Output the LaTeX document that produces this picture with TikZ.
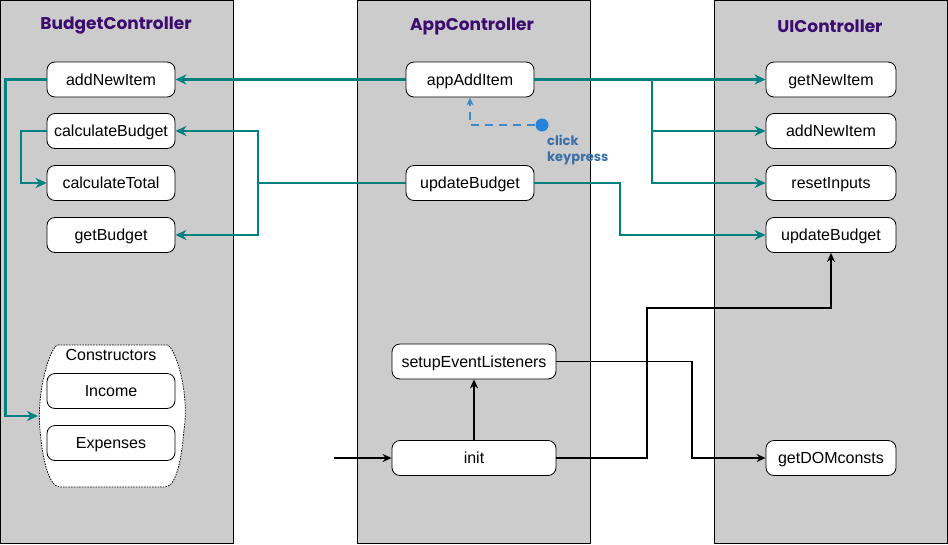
\documentclass[tikz,border=0pt]{standalone}
\usepackage{fontspec}
\setmainfont{Liberation Sans}
\newfontfamily\titlefont{Poppins}
\usetikzlibrary{arrows.meta}
\definecolor{colgray}{RGB}{204,204,204}
\definecolor{tealc}{RGB}{0,128,128}
\definecolor{titlec}{RGB}{60,12,110}
\definecolor{dotc}{RGB}{40,132,218}
\definecolor{dashc}{RGB}{60,140,205}
\definecolor{evc}{RGB}{58,110,168}
\tikzset{
  x=1pt, y=-1pt,
  column/.style={draw=black, line width=1pt, fill=colgray},
  title/.style={font=\titlefont\bfseries\fontsize{17}{20}\selectfont, text=titlec},
  fn/.style={draw=black, line width=0.8pt, fill=white, rounded corners=8pt,
    minimum height=35pt, inner sep=0pt, text height=11.5pt, text depth=0pt,
    font=\fontsize{16}{19}\selectfont},
  tarrow/.style={draw=tealc, line width=2.4pt, -{Stealth[length=11pt,width=10pt,inset=3.5pt]}},
  tline/.style={draw=tealc, line width=2.4pt},
  barrow/.style={draw=black, line width=1.5pt, -{Stealth[length=9pt,width=8pt,inset=3pt]}},
  evarrow/.style={draw=dashc, line width=1.5pt, dash pattern=on 8pt off 6pt, -{Stealth[length=8pt,width=7pt,inset=2.5pt]}},
  evtext/.style={font=\titlefont\bfseries\fontsize{13}{15}\selectfont, text=evc, anchor=west, inner sep=0pt}
}
\begin{document}
\begin{tikzpicture}
\useasboundingbox (0,0) rectangle (948,544);
% columns
\draw[column] (0.5,0.5) rectangle (233,543);
\draw[column] (357,0.5) rectangle (590,543);
\draw[column] (714,0.5) rectangle (947,543);
% titles
\node[title] (tB) at (116,26) {BudgetController};
\node[title] (tA) at (472,26) {AppController};
\node[title] (tU) at (830,26) {UIController};
% constructors container
\draw[dash pattern=on 1.5pt off 1.2pt, line width=0.8pt, fill=white]
  (58,345) -- (167,345) .. controls (174,345) and (190,390) .. (184,430)
  .. controls (182,455) and (177,487) .. (165,487) -- (60,487)
  .. controls (48,487) and (42,455) .. (40,430)
  .. controls (36,390) and (51,345) .. (58,345) -- cycle;
\coordinate (consW) at (38,416);
\node[font=\fontsize{16}{19}\selectfont, text height=11.5pt, text depth=0pt] (tCons) at (111,355) {Constructors};
% Budget controller nodes
\node[fn, minimum width=128pt] (bAdd) at (111,79.5) {addNewItem};
\node[fn, minimum width=128pt] (bCalc) at (111,131) {calculateBudget};
\node[fn, minimum width=128pt] (bTot) at (111,183) {calculateTotal};
\node[fn, minimum width=128pt] (bGet) at (111,235) {getBudget};
\node[fn, minimum width=128pt] (bInc) at (111,391) {Income};
\node[fn, minimum width=128pt] (bExp) at (111,443) {Expenses};
% App controller nodes
\node[fn, minimum width=128pt] (aAdd) at (470,79.5) {appAddItem};
\node[fn, minimum width=128pt] (aUpd) at (470,183) {updateBudget};
\node[fn, minimum width=164pt] (aSel) at (474,361.5) {setupEventListeners};
\node[fn, minimum width=164pt] (aInit) at (474,458) {init};
% UI controller nodes
\node[fn, minimum width=130pt] (uGet) at (831,79.5) {getNewItem};
\node[fn, minimum width=130pt] (uAdd) at (831,131) {addNewItem};
\node[fn, minimum width=130pt] (uReset) at (831,183) {resetInputs};
\node[fn, minimum width=130pt] (uUpd) at (831,235) {updateBudget};
\node[fn, minimum width=130pt] (uDom) at (831,458) {getDOMconsts};
% helper coordinates
\coordinate (xL) at (5.5,0);
\coordinate (xC) at (21,0);
\coordinate (xD) at (258,0);
\coordinate (xE) at (652,0);
\coordinate (xF) at (620,0);
\coordinate (xJ) at (692,0);
\coordinate (kInit) at (647,308);
\coordinate (start) at (334,458);
% teal connectors
\draw[tarrow] (aAdd.west) -- (bAdd.east);
\draw[tarrow] (aAdd.east) -- (uGet.west);
\draw[tarrow] (xE |- aAdd) |- (uAdd.west);
\draw[tarrow] (xE |- aAdd) |- (uReset.west);
\draw[tarrow] (bAdd.west) -| (xL |- consW) -- (consW);
\draw[tarrow] (bCalc.west) -| (xC |- bTot) -- (bTot.west);
\draw[tline] (aUpd.west) -- (xD |- aUpd);
\draw[tarrow] (xD |- aUpd) |- (bCalc.east);
\draw[tarrow] (xD |- aUpd) |- (bGet.east);
\draw[tarrow] (aUpd.east) -| (xF |- uUpd) -- (uUpd.west);
% event
\node[circle, fill=dotc, minimum size=13pt, inner sep=0pt] (dot) at (542,125) {};
\draw[evarrow] (dot.west) -| (aAdd.south);
\node[evtext] (click) at (547,140) {click};
\node[evtext] (keyp) at (547,158) {keypress};
% black connectors
\draw[barrow] (start) -- (aInit.west);
\draw[barrow] (aInit.north) -- (aSel.south);
\draw[barrow] (aSel.east) -| (xJ |- uDom) -- (uDom.west);
\draw[barrow] (aInit.east) -| (kInit) -| (uUpd.south);
\end{tikzpicture}
\end{document}
